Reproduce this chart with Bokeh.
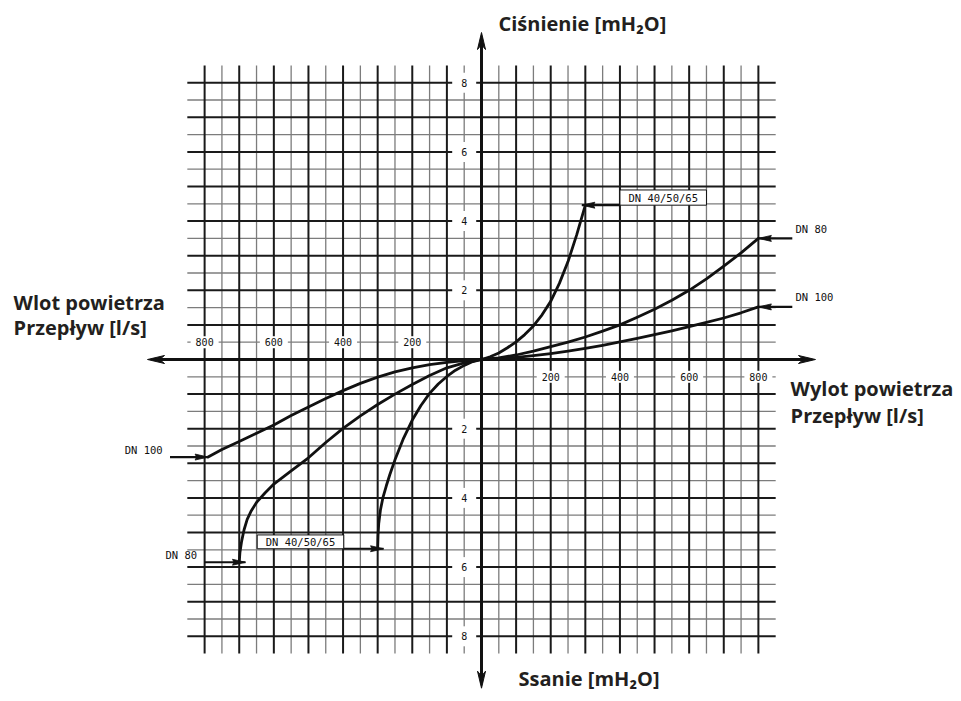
import numpy as np
from bokeh.plotting import figure
from bokeh.models import Range1d
from bokeh.core.properties import value
from bokeh.embed import file_html
from bokeh.resources import INLINE

# ---- data (flow [l/s], pressure [mH2O]) ----
flow_dn4050_pos = [0, 25, 50, 75, 100, 125, 150, 175, 200, 225, 250, 275, 300]
head_dn4050_pos = [0, 0.08, 0.19, 0.34, 0.51, 0.72, 0.97, 1.29, 1.68, 2.2, 2.83, 3.6, 4.46]
flow_dn80_pos = [0, 50, 100, 150, 200, 250, 300, 350, 400, 450, 500, 550, 600, 650, 700, 750, 800]
head_dn80_pos = [0, 0.05, 0.13, 0.24, 0.37, 0.5, 0.65, 0.82, 1.0, 1.22, 1.45, 1.71, 2.0, 2.33, 2.7, 3.08, 3.5]
flow_dn100_pos = [0, 50, 100, 150, 200, 250, 300, 350, 400, 450, 500, 550, 600, 650, 700, 750, 800]
head_dn100_pos = [0, 0.02, 0.06, 0.11, 0.17, 0.24, 0.32, 0.41, 0.51, 0.61, 0.72, 0.83, 0.95, 1.07, 1.2, 1.35, 1.52]
flow_dn4050_neg = [0, -25, -50, -75, -100, -125, -150, -175, -200, -225, -250, -265, -275, -285,
                   -292, -297, -299, -300]
head_dn4050_neg = [0, -0.06, -0.17, -0.31, -0.49, -0.71, -0.98, -1.33, -1.75, -2.27, -2.9, -3.33,
                   -3.65, -4.0, -4.35, -4.75, -5.1, -5.47]
flow_dn80_neg = [0, -50, -100, -150, -200, -250, -300, -350, -400, -450, -500, -550, -600, -625,
                 -650, -665, -677, -686, -693, -698, -700]
head_dn80_neg = [0, -0.1, -0.24, -0.46, -0.72, -1.0, -1.3, -1.63, -1.99, -2.4, -2.84, -3.22, -3.6,
                 -3.85, -4.13, -4.37, -4.62, -4.92, -5.25, -5.58, -5.86]
flow_dn100_neg = [0, -50, -100, -150, -200, -250, -300, -350, -400, -450, -500, -550, -600, -650,
                  -700, -750, -790]
head_dn100_neg = [0, -0.03, -0.08, -0.15, -0.24, -0.36, -0.51, -0.69, -0.9, -1.13, -1.37, -1.62,
                  -1.89, -2.13, -2.37, -2.6, -2.82]

x_tick_values = [-800, -600, -400, -200, 200, 400, 600, 800]
x_tick_labels = ["800", "600", "400", "200", "200", "400", "600", "800"]
y_tick_values = [8, 6, 4, 2, -2, -4, -6, -8]
y_tick_labels = ["8", "6", "4", "2", "2", "4", "6", "8"]

# ---- scale ----
W, H = 953, 693
SX = 0.3461   # px per l/s
SY = 34.6     # px per mH2O
X0, Y0 = 481, 359  # canvas px of origin
x_range = Range1d(-X0 / SX, (W - X0) / SX)
y_range = Range1d(-(H - Y0) / SY, Y0 / SY)

p = figure(width=W, height=H, x_range=x_range, y_range=y_range,
           x_axis_type=None, y_axis_type=None, toolbar_location=None,
           output_backend="svg", min_border=0)
p.outline_line_color = None
p.grid.visible = False
p.background_fill_color = "white"
p.border_fill_color = "white"

CAD = value("DejaVu Sans Mono")
BOLD = value("Open Sans")

# ---- grid ----
vx = np.arange(-800, 801, 50)
hy = np.arange(-8, 8.01, 0.5)
thin_v = [x for x in vx if x % 100 != 0]
thick_v = [x for x in vx if x % 100 == 0]
thin_h = [y for y in hy if abs(y - round(y)) > 0.1]
thick_h = [y for y in hy if abs(y - round(y)) < 0.1]

p.segment(x0=thin_v, y0=-8.5, x1=thin_v, y1=8.5, line_color="#7c7c7c", line_width=1.3)
p.segment(x0=-850, y0=thin_h, x1=850, y1=thin_h, line_color="#7c7c7c", line_width=1.3)
p.segment(x0=thick_v, y0=-8.5, x1=thick_v, y1=8.5, line_color="#1a1a1a", line_width=2)
p.segment(x0=-850, y0=thick_h, x1=850, y1=thick_h, line_color="#1a1a1a", line_width=2)

# ---- tick labels with white knock-out ----
xl_y = [0.5 if v < 0 else -0.5 for v in x_tick_values]
p.rect(x=x_tick_values, y=xl_y, width=28, height=12, width_units="screen",
       height_units="screen", fill_color="white", line_color=None)
p.text(x=x_tick_values, y=xl_y, text=x_tick_labels, text_align="center",
       text_baseline="middle", text_font=CAD, text_font_size="10px", text_color="#111")
yl_x = [-50] * len(y_tick_values)
p.rect(x=yl_x, y=y_tick_values, width=24, height=20, width_units="screen",
       height_units="screen", fill_color="white", line_color=None)
p.text(x=yl_x, y=y_tick_values, text=y_tick_labels, text_align="center",
       text_baseline="middle", text_font=CAD, text_font_size="10px", text_color="#111")


def head(tx, ty, direction, length, width, notch=0.0):
    """arrow head polygon (data units) from pixel sizes"""
    L, Wd, N = length, width / 2.0, notch
    if direction in ("left", "right"):
        s = 1 if direction == "left" else -1
        xs = [tx, tx + s * L / SX, tx + s * (L - N) / SX, tx + s * L / SX]
        ys = [ty, ty + Wd / SY, ty, ty - Wd / SY]
    else:
        s = -1 if direction == "up" else 1
        xs = [tx, tx + Wd / SX, tx, tx - Wd / SX]
        ys = [ty, ty + s * L / SY, ty + s * (L - N) / SY, ty + s * L / SY]
    return xs, ys


# ---- main axes ----
AX = 965
AY_TOP, AY_BOT = 9.45, -9.5
p.segment(x0=-AX + 5 / SX, y0=0, x1=AX - 5 / SX, y1=0, line_color="#111", line_width=3)
p.segment(x0=0, y0=AY_BOT + 5 / SY, x1=0, y1=AY_TOP - 5 / SY, line_color="#111", line_width=3)
heads = [head(-AX, 0, "left", 17, 8, 5), head(AX, 0, "right", 17, 8, 5),
         head(0, AY_TOP, "up", 17, 8, 5), head(0, AY_BOT, "down", 17, 8, 5)]
p.patches(xs=[h[0] for h in heads], ys=[h[1] for h in heads],
          fill_color="#111", line_color="#111", line_width=1)

# ---- curves ----
curves = [(flow_dn4050_pos, head_dn4050_pos), (flow_dn80_pos, head_dn80_pos),
          (flow_dn100_pos, head_dn100_pos), (flow_dn4050_neg, head_dn4050_neg),
          (flow_dn80_neg, head_dn80_neg), (flow_dn100_neg, head_dn100_neg)]
for fx, hy_ in curves:
    p.line(fx, hy_, line_color="#111", line_width=2.8, line_join="round", line_cap="round")

# ---- DN annotations ----
p.quad(left=[400, -648], right=[650, -398], bottom=[head_dn4050_pos[-1], head_dn4050_neg[-1]],
       top=[head_dn4050_pos[-1] + 0.44, head_dn4050_neg[-1] + 0.4],
       fill_color="white", line_color="#111", line_width=1)
p.text(x=[525, -523], y=[head_dn4050_pos[-1] + 0.22, head_dn4050_neg[-1] + 0.2],
       text=["DN 40/50/65", "DN 40/50/65"], text_align="center", text_baseline="middle",
       text_font=CAD, text_font_size="10.5px", text_color="#111")

# arrow shafts: (x_start, x_tip, y, direction)
shafts = [
    (400, 290, head_dn4050_pos[-1], "left"),
    (898, flow_dn80_pos[-1], head_dn80_pos[-1], "left"),
    (898, flow_dn100_pos[-1], head_dn100_pos[-1], "left"),
    (-900, flow_dn100_neg[-1], head_dn100_neg[-1], "right"),
    (-800, -682, head_dn80_neg[-1], "right"),
    (-398, -283, head_dn4050_neg[-1], "right"),
]
p.segment(x0=[s[0] for s in shafts], y0=[s[2] for s in shafts],
          x1=[s[1] for s in shafts], y1=[s[2] for s in shafts],
          line_color="#111", line_width=2.2)
dn_heads = [head(s[1], s[2], s[3], 13, 6, 1.5) for s in shafts]
p.patches(xs=[h[0] for h in dn_heads], ys=[h[1] for h in dn_heads],
          fill_color="#111", line_color="#111", line_width=0.8)

p.text(x=[907, 907], y=[3.78, 1.82], text=["DN 80", "DN 100"], text_align="left",
       text_baseline="middle", text_font=CAD, text_font_size="10.5px", text_color="#111")
p.text(x=[-1031, -913], y=[-2.63, -5.66], text=["DN 100", "DN 80"], text_align="left",
       text_baseline="middle", text_font=CAD, text_font_size="10.5px", text_color="#111")

# ---- axis titles ----
TITLE = dict(text_align="left", text_baseline="middle", text_font=BOLD,
             text_font_style="bold", text_font_size="20px", text_color="#231f20")
p.text(x=[49], y=[9.71], text=["Ciśnienie [mH₂O]"], **TITLE)
p.text(x=[107], y=[-9.22], text=["Ssanie [mH₂O]"], **TITLE)
p.text(x=[-1352, -1352], y=[1.66, 0.93], text=["Wlot powietrza", "Przepływ  [l/s]"], **TITLE)
p.text(x=[893, 893], y=[-0.84, -1.62], text=["Wylot powietrza", "Przepływ  [l/s]"], **TITLE)

open("out.html", "w").write(file_html(p, INLINE))
